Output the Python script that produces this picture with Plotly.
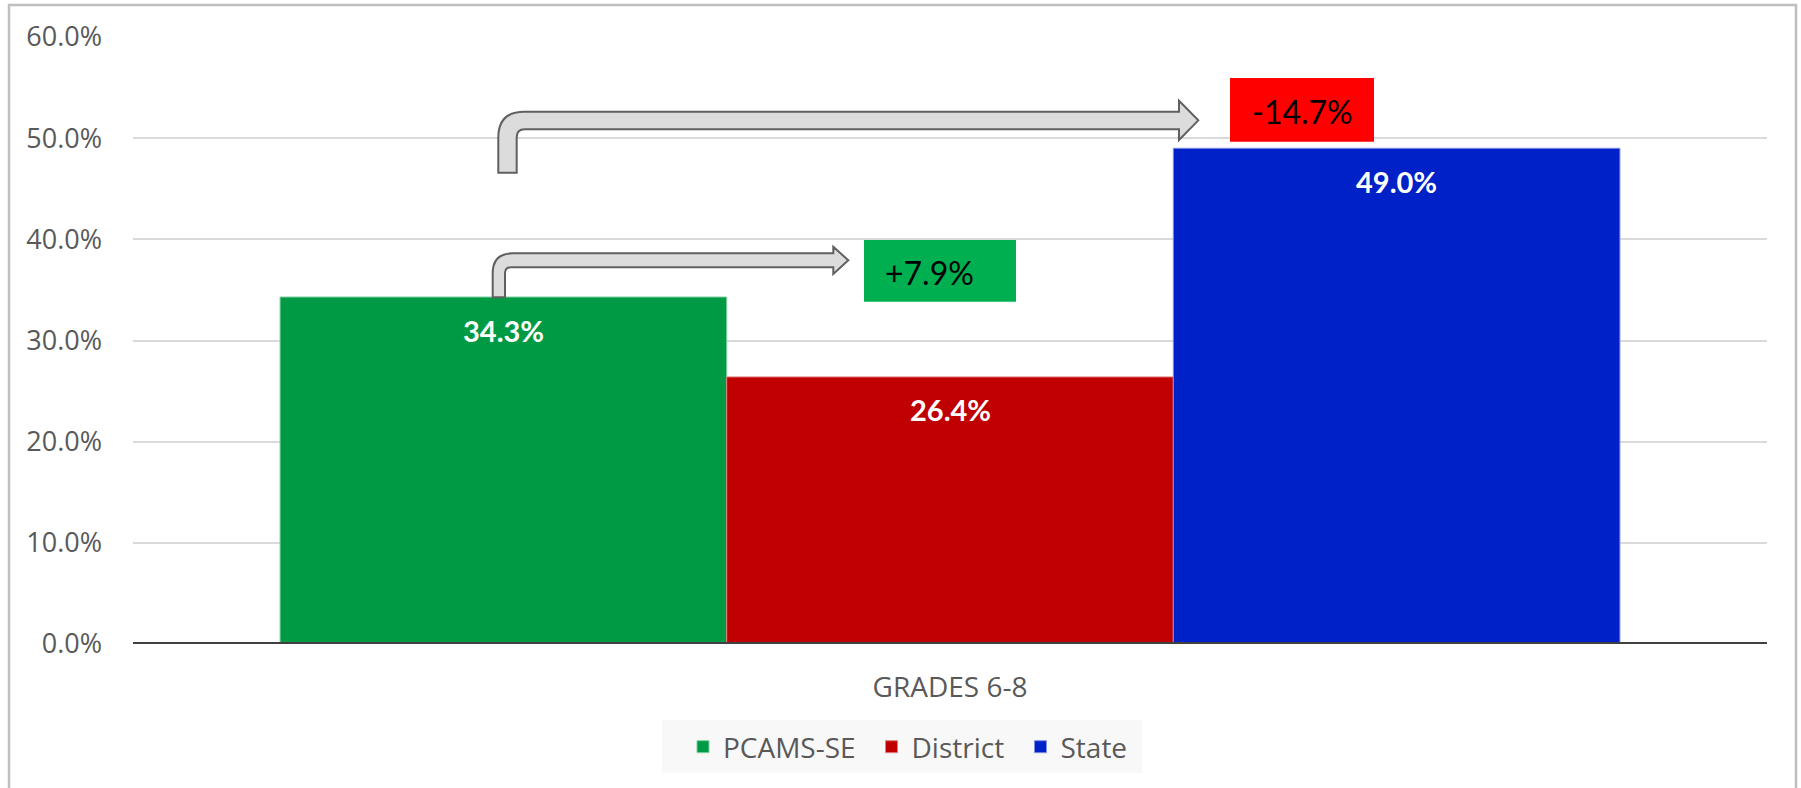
import plotly.graph_objects as go

# ---- data ----
category = ["GRADES 6-8"]
series_names = ["PCAMS-SE", "District", "State"]
values = [34.3, 26.4, 49.0]
bar_colors = ["#009A44", "#C00000", "#0020C8"]
bar_edge_colors = ["#80CFA0", "#E08080", "#8090E8"]
y_ticks = [0, 10, 20, 30, 40, 50, 60]

diff_district = round(values[0] - values[1], 1)   # +7.9
diff_state = round(values[0] - values[2], 1)      # -14.7

# ---- layout geometry (pixels) ----
W, H = 1801, 788
ML, MR, MT, MB = 133, 34, 37, 144
PW = W - ML - MR
PH = H - MT - MB
BARGAP = 0.18
LEGEND_X = [683, 871.5, 1020.5]   # left edge of each legend entry (px)


def px(x):
    return (x - ML) / PW


def py(y):
    return (H - MB - y) / PH


def path_px(points_cmds):
    out = []
    for cmd, pts in points_cmds:
        coords = [f"{px(x):.5f},{py(y):.5f}" for (x, y) in pts]
        out.append(cmd + " ".join(coords))
    return " ".join(out) + " Z"


def bent_arrow(xL, xR, yB, yT, yS, xH, hT, hB, tip, ro, ri):
    yc = (hT + hB) / 2
    return path_px([
        ("M", [(xL, yB)]),
        ("L", [(xL, yT + ro)]),
        ("Q", [(xL, yT), (xL + ro, yT)]),
        ("L", [(xH, yT)]),
        ("L", [(xH, hT)]),
        ("L", [(tip, yc)]),
        ("L", [(xH, hB)]),
        ("L", [(xH, yS)]),
        ("L", [(xR + ri, yS)]),
        ("Q", [(xR, yS), (xR, yS + ri)]),
        ("L", [(xR, yB)]),
    ])


fig = go.Figure()
legend_ids = ["legend", "legend2", "legend3"]
for name, v, c, ec, lg in zip(series_names, values, bar_colors, bar_edge_colors, legend_ids):
    fig.add_trace(go.Bar(
        x=category, y=[v], name=name, legend=lg,
        marker=dict(color=c, line=dict(color=ec, width=1)),
        hoverinfo="skip",
    ))

# bar value labels
n = len(values)
bw = (1 - BARGAP) / n
for i, v in enumerate(values):
    xc = -0.5 * (1 - BARGAP) + bw * (i + 0.5)
    fig.add_annotation(
        x=xc, y=v, xref="x", yref="y", yanchor="middle", yshift=-33,
        text=f"<b>{v:.1f}%</b>", showarrow=False,
        font=dict(family="Lato", size=29, color="white"),
    )

shapes = []
# outer chart frame
shapes.append(dict(type="rect", xref="paper", yref="paper",
                   x0=px(9), x1=px(1796), y0=py(805), y1=py(5),
                   line=dict(color="#BFBFBF", width=2.5), fillcolor="rgba(0,0,0,0)", layer="below"))
# legend background
shapes.append(dict(type="rect", xref="paper", yref="paper",
                   x0=px(662), x1=px(1142), y0=py(773), y1=py(720),
                   line=dict(width=0), fillcolor="#F8F8F8", layer="below"))
# axis baseline
shapes.append(dict(type="line", xref="paper", yref="y", x0=0, x1=1, y0=0, y1=0,
                   line=dict(color="#404040", width=4), layer="above"))
# arrows
arrow_style = dict(type="path", xref="paper", yref="paper", fillcolor="#DCDCDC",
                   line=dict(color="#606060", width=2), layer="above")
shapes.append(dict(path=bent_arrow(498.3, 516.7, 172.7, 111.7, 129.3, 1179, 100.7, 140, 1198.3, 26, 8), **arrow_style))
shapes.append(dict(path=bent_arrow(492.7, 505, 297.3, 253.3, 267.3, 833.3, 246.7, 274, 848.3, 20, 6), **arrow_style))
# callout boxes
shapes.append(dict(type="rect", xref="paper", yref="paper", x0=px(864), x1=px(1016), y0=py(301.7), y1=py(240),
                   fillcolor="#00B050", line=dict(width=0), layer="above"))
shapes.append(dict(type="rect", xref="paper", yref="paper", x0=px(1230), x1=px(1374), y0=py(141.7), y1=py(78),
                   fillcolor="#FF0000", line=dict(width=0), layer="above"))

fig.add_annotation(x=px(883), y=py(272), xref="paper", yref="paper", xanchor="left", yanchor="middle",
                   text=f"{diff_district:+.1f}%", showarrow=False,
                   font=dict(family="Lato", size=32, color="black"))
fig.add_annotation(x=px(1250), y=py(111.5), xref="paper", yref="paper", xanchor="left", yanchor="middle",
                   text=f"{diff_state:+.1f}%", showarrow=False,
                   font=dict(family="Lato", size=32, color="black"))

legend_common = dict(orientation="h", xanchor="left", y=py(747), yanchor="middle",
                     bgcolor="rgba(0,0,0,0)",
                     font=dict(family="Open Sans", size=28, color="#595959"))

fig.update_layout(
    width=W, height=H,
    margin=dict(l=ML, r=MR, t=MT, b=MB, pad=0),
    paper_bgcolor="white", plot_bgcolor="white",
    barmode="group", bargap=BARGAP, bargroupgap=0,
    shapes=shapes,
    showlegend=True,
    legend=dict(x=px(LEGEND_X[0]), **legend_common),
    legend2=dict(x=px(LEGEND_X[1]), **legend_common),
    legend3=dict(x=px(LEGEND_X[2]), **legend_common),
    font=dict(family="Open Sans", size=27, color="#595959"),
    xaxis=dict(showgrid=False, zeroline=False, showline=False, ticks="",
               ticklabelstandoff=24,
               tickfont=dict(family="Open Sans", size=28, color="#595959")),
    yaxis=dict(range=[0, 60], tickvals=y_ticks, ticktext=[f"{t:.1f}%" for t in y_ticks],
               showgrid=True, gridcolor="#D9D9D9", gridwidth=1.5,
               zeroline=False, showline=False, ticks="", ticklabelstandoff=30,
               tickfont=dict(family="Open Sans", size=27, color="#595959")),
)

fig.write_html("out.html", config={"displayModeBar": False},
               post_script="document.body.style.margin='0';")
